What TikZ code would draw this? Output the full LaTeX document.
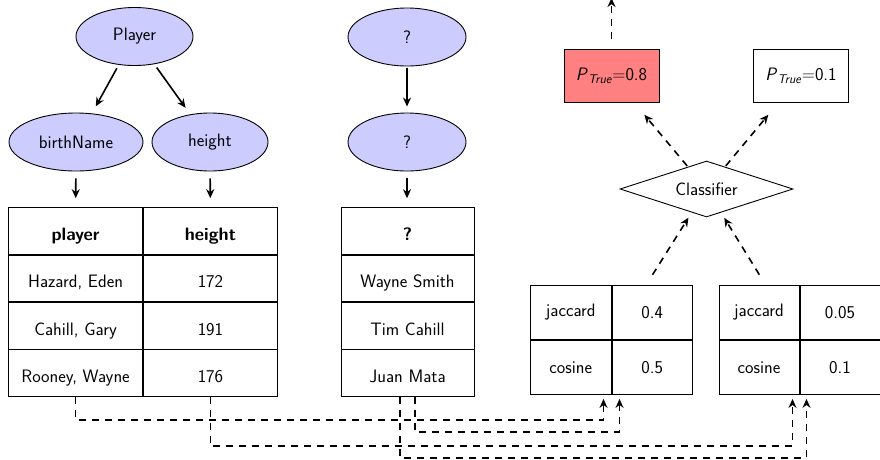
\documentclass[tikz,border=0pt]{standalone}
\usetikzlibrary{shapes.geometric,arrows.meta,matrix,calc}
\begin{document}
\begin{tikzpicture}[x=1pt,y=-1pt,
  font=\sffamily\fontsize{18}{21}\selectfont,
  concept/.style={ellipse,draw,line width=0.9pt,fill=blue!20,minimum height=58pt,inner sep=0pt},
  arr/.style={-{Stealth[length=9pt,width=8pt]},line width=1.6pt},
  darr/.style={-{Stealth[length=9pt,width=8pt]},line width=1.6pt,dash pattern=on 7pt off 6pt},
  tbl/.style={matrix of nodes,ampersand replacement=\&,row sep=0pt,column sep=0pt,inner sep=0pt,
    nodes={draw,line width=0.9pt,anchor=center,inner sep=0pt}},
  rowcell/.style={text height=21pt,text depth=2pt},
  prob/.style={draw,line width=0.9pt,minimum width=95pt,minimum height=53pt,inner sep=0pt},
  decide/.style={diamond,draw,line width=0.9pt,aspect=3,inner sep=0pt,minimum width=173pt,minimum height=56pt},
]
\useasboundingbox (0,0) rectangle (880,459);

% ontology side
\node[concept,minimum width=117pt] (player) at (134.5,36.5) {Player};
\node[concept,minimum width=134pt] (bname) at (76,142) {birthName};
\node[concept,minimum width=116pt] (height) at (210,142) {height};

% unknown schema
\node[concept,minimum width=118pt] (q1) at (407,37) {?};
\node[concept,minimum width=118pt] (q2) at (407,142) {?};

% known table
\matrix[tbl,nodes={rowcell,minimum width=134pt,minimum height=46.5pt}] (t1) at (143,302) {
  \textbf{player} \& \textbf{height} \\
  Hazard, Eden \& 172 \\
  Cahill, Gary \& 191 \\
  Rooney, Wayne \& 176 \\
};

% unknown table
\matrix[tbl,nodes={rowcell,minimum width=133pt,minimum height=46.5pt}] (t2) at (407.5,302) {
  \textbf{?} \\
  Wayne Smith \\
  Tim Cahill \\
  Juan Mata \\
};

% similarity scores
\matrix[tbl,nodes={minimum width=80.5pt,minimum height=54pt}] (s1) at (611.5,340) {
  jaccard \& 0.4 \\
  cosine \& 0.5 \\
};
\matrix[tbl,nodes={minimum width=80pt,minimum height=54pt}] (s2) at (799.5,340) {
  jaccard \& 0.05 \\
  cosine \& 0.1 \\
};

% classifier and outputs
\node[decide] (cls) at (706.5,189) {Classifier};
\node[prob,fill=red!50] (p1) at (611.5,75.5) {\textit{P}\textsubscript{\textit{True}}=0.8};
\node[prob] (p2) at (801,75.5) {\textit{P}\textsubscript{\textit{True}}=0.1};

% solid connectors
\draw[arr,shorten <=4pt,shorten >=8pt] (player) -- (bname);
\draw[arr,shorten <=4pt,shorten >=8pt] (player) -- (height);
\draw[arr,shorten <=7pt,shorten >=9pt] (bname) -- (t1-1-1);
\draw[arr,shorten <=7pt,shorten >=9pt] (height) -- (t1-1-2);
\draw[arr,shorten <=2pt,shorten >=6pt] (q1) -- (q2);
\draw[arr,shorten <=7pt,shorten >=9pt] (q2) -- (q2 |- t2-1-1.north);

% dashed connectors
\draw[darr,shorten <=12pt,shorten >=6pt] (s1) -- (cls);
\draw[darr,shorten <=12pt,shorten >=6pt] (s2) -- (cls);
\draw[darr,shorten <=1pt,shorten >=16pt] (cls) -- (p1);
\draw[darr,shorten <=1pt,shorten >=16pt] (cls) -- (p2);
\coordinate (up) at (611.5,-2);
\draw[darr,shorten <=10pt] (p1.north) -- (up);

\draw[darr,shorten >=4pt] (t1-4-1.south) -- ++(0,23) -| ([xshift=-8pt]s1-2-2.south west);
\draw[darr,shorten >=4pt] ([xshift=7.5pt]t2-4-1.south) -- ++(0,35) -| ([xshift=8pt]s1-2-2.south west);
\draw[darr,shorten >=4pt] (t1-4-2.south) -- ++(0,49) -| ([xshift=-7pt]s2-2-2.south west);
\draw[darr,shorten >=4pt] ([xshift=-7.5pt]t2-4-1.south) -- ++(0,61) -| ([xshift=7pt]s2-2-2.south west);
\end{tikzpicture}
\end{document}
